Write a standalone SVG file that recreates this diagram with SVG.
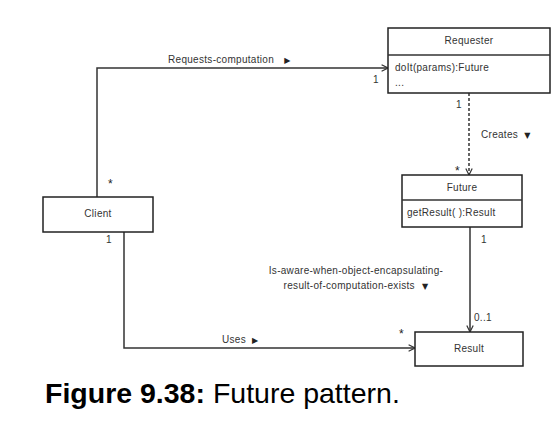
<svg xmlns="http://www.w3.org/2000/svg" width="560" height="422" viewBox="0 0 560 422">
<defs>
<style>
.box{fill:#fff;stroke:#222;stroke-width:1.5}
.t{font-family:"Liberation Sans",Arial,sans-serif;font-size:10px;letter-spacing:0.3px;fill:#333}
.c{text-anchor:middle}
.s{font-size:12px;fill:#222}
.ln{fill:none;stroke:#333;stroke-width:1.5}
.dash{stroke-dasharray:3,2}
.tri{font-family:"DejaVu Sans",sans-serif;font-size:8px;fill:#222}
</style>
<marker id="open" viewBox="0 0 10 10" refX="9" refY="5" markerWidth="8" markerHeight="8" orient="auto" markerUnits="userSpaceOnUse">
<path d="M1,1 L9,5 L1,9" fill="none" stroke="#333" stroke-width="1.5"/>
</marker>
</defs>
<rect width="560" height="422" fill="#fff"/>
<g id="connectors">
<path class="ln" d="M97,197 V68 H388" marker-end="url(#open)"/>
<path class="ln dash" d="M469,93 V175" marker-end="url(#open)"/>
<path class="ln" d="M124,232 V348 H415" marker-end="url(#open)"/>
<path class="ln" d="M470,227 V332" marker-end="url(#open)"/>
<text class="t" x="168" y="63">Requests-computation <tspan class="tri" dx="7">▶</tspan></text>
<text class="t" x="373" y="83">1</text>
<text class="t s" x="108" y="188">*</text>
<text class="t" x="456" y="108">1</text>
<text class="t" x="481" y="138">Creates <tspan class="tri" dx="3">▼</tspan></text>
<text class="t s" x="455" y="175">*</text>
<text class="t" x="106" y="243">1</text>
<text class="t" x="222" y="343">Uses <tspan class="tri" dx="3">▶</tspan></text>
<text class="t s" x="399" y="338">*</text>
<text class="t" x="481" y="243">1</text>
<text class="t" x="474" y="321">0..1</text>
<text class="t c" x="356" y="274">Is-aware-when-object-encapsulating-</text>
<text class="t c" x="356" y="289">result-of-computation-exists <tspan class="tri" dx="4">▼</tspan></text>
</g>
<g id="requester">
<rect class="box" x="388" y="28" width="162" height="65"/>
<line class="ln" x1="388" y1="55" x2="550" y2="55"/>
<text class="t c" x="469" y="44">Requester</text>
<text class="t" x="395" y="71">doIt(params):Future</text>
<text class="t" x="395" y="86">...</text>
</g>
<g id="future">
<rect class="box" x="402" y="175" width="120" height="52"/>
<line class="ln" x1="402" y1="200" x2="522" y2="200"/>
<text class="t c" x="462" y="191">Future</text>
<text class="t" x="407" y="216">getResult( ):Result</text>
</g>
<g id="client">
<rect class="box" x="43" y="197" width="110" height="35"/>
<text class="t c" x="98" y="217">Client</text>
</g>
<g id="result">
<rect class="box" x="415" y="332" width="108" height="34"/>
<text class="t c" x="469" y="352">Result</text>
</g>
<g id="caption">
<text x="45" y="403" font-family="Liberation Sans,Arial,sans-serif" font-size="28.5" fill="#000"><tspan font-weight="bold">Figure 9.38:</tspan> Future pattern.</text>
</g>
</svg>
